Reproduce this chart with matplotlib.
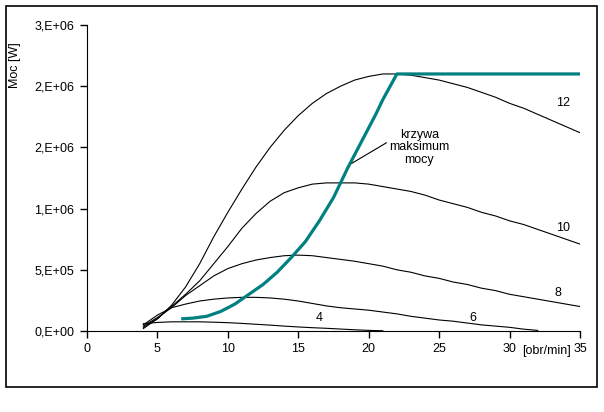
import matplotlib
matplotlib.use("Agg")
import matplotlib.pyplot as plt
from matplotlib.patches import Rectangle

plt.rcParams['font.family'] = ['Liberation Sans', 'DejaVu Sans']
plt.rcParams['font.size'] = 9

# rpm grid for the family curves
rpm = list(range(4, 36))

p12 = [0.02, 0.10, 0.21, 0.36, 0.55, 0.77, 0.97, 1.16, 1.34, 1.50, 1.64, 1.76,
       1.86, 1.94, 2.00, 2.05, 2.08, 2.10, 2.10, 2.09, 2.07, 2.05, 2.02, 1.99,
       1.95, 1.91, 1.86, 1.82, 1.77, 1.72, 1.67, 1.62]
p10 = [0.03, 0.10, 0.20, 0.30, 0.41, 0.55, 0.69, 0.84, 0.96, 1.06, 1.13, 1.17,
       1.20, 1.21, 1.21, 1.21, 1.20, 1.18, 1.16, 1.14, 1.11, 1.07, 1.04, 1.01,
       0.97, 0.94, 0.90, 0.87, 0.83, 0.79, 0.75, 0.71]
p8 = [0.04, 0.11, 0.19, 0.29, 0.37, 0.45, 0.51, 0.55, 0.58, 0.60, 0.615, 0.62,
      0.615, 0.60, 0.585, 0.57, 0.55, 0.53, 0.50, 0.48, 0.45, 0.43, 0.40, 0.38,
      0.35, 0.33, 0.30, 0.28, 0.26, 0.24, 0.22, 0.20]
rpm6 = list(range(4, 33))
p6 = [0.05, 0.13, 0.19, 0.22, 0.245, 0.26, 0.27, 0.275, 0.275, 0.27, 0.26, 0.245,
      0.225, 0.205, 0.19, 0.18, 0.17, 0.155, 0.14, 0.12, 0.105, 0.09, 0.08, 0.065,
      0.05, 0.04, 0.03, 0.015, 0.005]
rpm4 = list(range(4, 22))
p4 = [0.06, 0.07, 0.075, 0.075, 0.075, 0.072, 0.068, 0.062, 0.055, 0.048, 0.04,
      0.033, 0.027, 0.022, 0.016, 0.01, 0.005, 0.002]

# maximum power curve
rpm_max = [6.8, 7.5, 8.5, 9.5, 10.5, 11.5, 12.5, 13.5, 14.5, 15.5, 16.5, 17.5,
           18.5, 19.5, 20.5, 21.0, 22.0, 35.0]
p_max = [0.10, 0.105, 0.12, 0.16, 0.22, 0.30, 0.38, 0.48, 0.60, 0.73, 0.90, 1.09,
         1.33, 1.55, 1.77, 1.89, 2.10, 2.10]

curves = [(rpm4, p4, '4', 16.5, 0.11),
          (rpm6, p6, '6', 27.4, 0.11),
          (rpm, p8, '8', 33.4, 0.31),
          (rpm, p10, '10', 33.8, 0.84),
          (rpm, p12, '12', 33.8, 1.86)]

yticks = [0, 0.5e6, 1.0e6, 1.5e6, 2.0e6, 2.5e6]
ytick_labels = ['0,E+00', '5,E+05', '1,E+06', '2,E+06', '2,E+06', '3,E+06']
xticks = [0, 5, 10, 15, 20, 25, 30, 35]

fig = plt.figure(figsize=(6.04, 4.12), dpi=100)
fig.patches.append(Rectangle((6 / 604, 1 - 387 / 412), 591 / 604, 381 / 412,
                             transform=fig.transFigure, fill=False,
                             edgecolor='black', linewidth=1.2))
ax = fig.add_axes([87 / 604, 1 - 331 / 412, 493 / 604, 306 / 412])

for xs, ys, name, lx, ly in curves:
    ax.plot(xs, [v * 1e6 for v in ys], color='black', linewidth=0.8)
    ax.text(lx, ly * 1e6, name, ha='center', va='center')

ax.plot(rpm_max, [v * 1e6 for v in p_max], color='#008080', linewidth=2.3)

ax.annotate('krzywa\nmaksimum\nmocy', xy=(18.8, 1.37e6), xytext=(23.6, 1.5e6),
            ha='center', va='center', linespacing=1.05,
            arrowprops=dict(arrowstyle='-', color='black', linewidth=0.8,
                            relpos=(0.05, 0.72), shrinkA=0, shrinkB=0))

ax.set_xlim(0, 35)
ax.set_ylim(0, 2.5e6)
ax.set_xticks(xticks)
ax.set_yticks(yticks)
ax.set_yticklabels(ytick_labels)
ax.spines['top'].set_visible(False)
ax.spines['right'].set_visible(False)
ax.tick_params(direction='out', length=5, width=1, pad=4)

fig.text(15 / 604, 1 - 65 / 412, 'Moc [W]', rotation=90, ha='center', va='center')
fig.text(571 / 604, 1 - 351 / 412, '[obr/min]', ha='right', va='center')

fig.savefig('out.png', dpi=100, facecolor='white')
